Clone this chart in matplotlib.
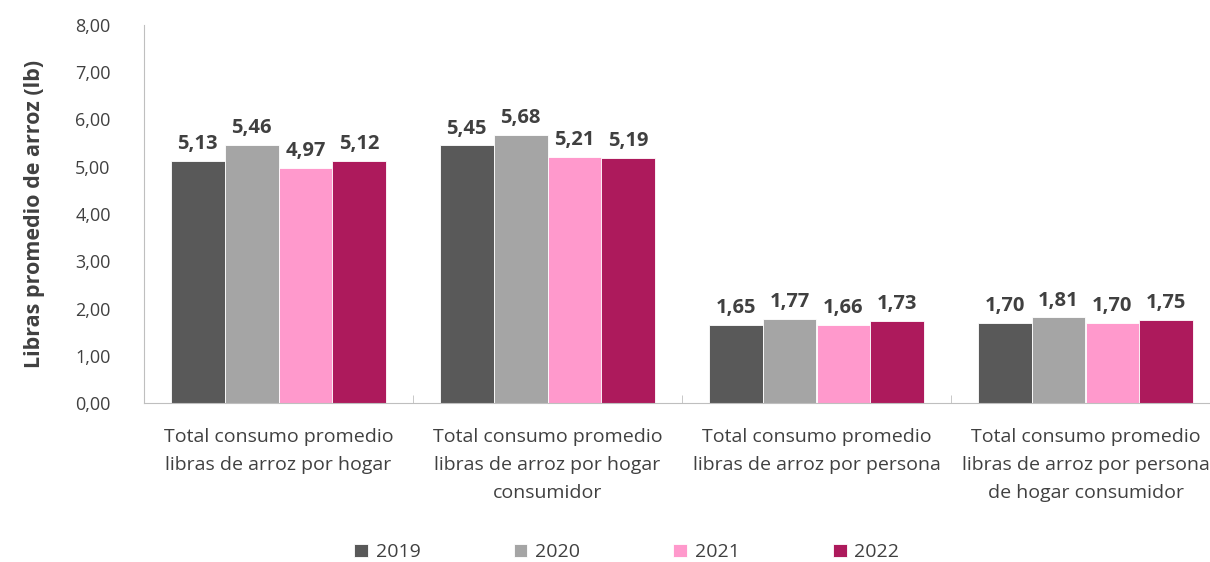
import numpy as np
import matplotlib.pyplot as plt

plt.rcParams['font.family'] = ['Open Sans', 'DejaVu Sans']

categories = [
    "Total consumo promedio\nlibras de arroz por hogar",
    "Total consumo promedio\nlibras de arroz por hogar\nconsumidor",
    "Total consumo promedio\nlibras de arroz por persona",
    "Total consumo promedio\nlibras de arroz por persona\nde hogar consumidor",
]
years = ["2019", "2020", "2021", "2022"]
v2019 = [5.13, 5.45, 1.65, 1.70]
v2020 = [5.46, 5.68, 1.77, 1.81]
v2021 = [4.97, 5.21, 1.66, 1.70]
v2022 = [5.12, 5.19, 1.73, 1.75]
colors = ["#595959", "#A5A5A5", "#FF99CC", "#AD1A5C"]

series = [v2019, v2020, v2021, v2022]
txt = "#404040"

fig = plt.figure(figsize=(12.10, 5.62), dpi=100)
ax = fig.add_axes([144/1210, 159/562, 4*269/1210, 378/562])

x = np.arange(len(categories))
w = 0.2
for i, (vals, yr, c) in enumerate(zip(series, years, colors)):
    pos = x + (i - 1.5) * w
    bars = ax.bar(pos, vals, w, color=c, label=yr, edgecolor="white", linewidth=0.6)
    for b, v in zip(bars, vals):
        ax.annotate(f"{v:.2f}".replace(".", ","), (b.get_x() + b.get_width()/2, v),
                    xytext=(0, 5), textcoords="offset points", ha="center", va="bottom",
                    fontsize=14.5, fontweight="bold", color=txt)

ax.set_xlim(-0.5, 3.5)
ax.set_ylim(0, 8)
ax.set_yticks(np.arange(0, 9, 1))
ax.set_yticklabels([f"{t:.2f}".replace(".", ",") for t in np.arange(0, 9, 1)])
ax.tick_params(axis="y", length=0, labelsize=13, labelcolor=txt, pad=24)

ax.set_xticks(x)
ax.set_xticklabels(categories, fontsize=14, color=txt, linespacing=1.7)
ax.tick_params(axis="x", length=0, pad=18)
ax.set_xticks(np.arange(-0.5, 4.0, 1), minor=True)
ax.tick_params(axis="x", which="minor", direction="in", length=6, color="#BFBFBF")

for s in ["top", "right"]:
    ax.spines[s].set_visible(False)
for s in ["left", "bottom"]:
    ax.spines[s].set_color("#BFBFBF")

ax.set_ylabel("Libras promedio de arroz (lb)", fontsize=15.5, fontweight="bold", color=txt, labelpad=22)

fig.legend(loc="lower center", bbox_to_anchor=(0.518, -0.03), ncol=4, frameon=False,
           fontsize=14, handlelength=0.7, handleheight=0.7, handletextpad=0.4,
           columnspacing=4.8, labelcolor=txt)

fig.savefig("out.png", dpi=100)
